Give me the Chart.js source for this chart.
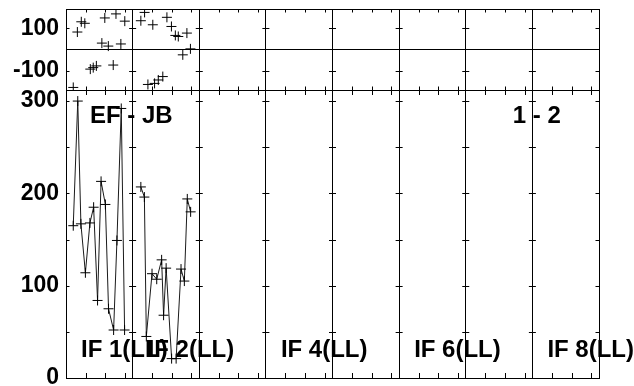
<!DOCTYPE html>
<html>
<head>
<meta charset="utf-8">
<script src="https://cdn.jsdelivr.net/npm/chart.js@4.4.1/dist/chart.umd.min.js"></script>
<style>
  html, body { margin: 0; padding: 0; background: #fff; overflow: hidden; }
  #wrap { position: relative; width: 634px; height: 386px; overflow: hidden; }
  canvas { position: absolute; left: 0; }
  #amp-chart { top: 0; }
  #phase-chart { top: -30px; }
</style>
</head>
<body>
<div id="wrap">
  <canvas id="amp-chart" width="634" height="400"></canvas>
  <canvas id="phase-chart" width="634" height="430"></canvas>
</div>
<script>
// time axis: 8 IF panels, each 3.4 time units wide
const PANEL = 3.4
const N_PANELS = 8
const minorTicks = [1, 2, 3]

// IF 1 (LL)
const if1AmpTime = [0.37, 0.60, 0.76, 0.99, 1.22, 1.41, 1.61, 1.79, 2.01, 2.17, 2.43, 2.60, 2.82, 2.99]
const if1Amp = [165, 300, 167, 114, 168, 185, 84, 213, 188, 75, 52, 149, 292, 52]
const if1PhaseTime = [0.37, 0.58, 0.78, 0.96, 1.24, 1.39, 1.55, 1.83, 1.98, 2.16, 2.41, 2.55, 2.80, 3.00]
const if1Phase = [-178, 82, 130, 123, -92, -85, -77, 30, 148, 16, -73, 167, 26, 133]

// IF 2 (LL)
const if2AmpTime = [0.42, 0.60, 0.70, 0.99, 1.23, 1.48, 1.58, 1.71, 1.99, 2.22, 2.47, 2.64, 2.79, 2.96]
const if2Amp = [207, 196, 45, 113, 107, 128, 68, 119, 21, 21, 118, 105, 194, 180]
const if2PhaseTime = [0.42, 0.61, 0.78, 1.03, 1.12, 1.31, 1.54, 1.75, 1.98, 2.18, 2.33, 2.56, 2.77, 2.95]
const if2Phase = [135, 174, -164, 116, -159, -143, -127, 151, 108, 66, 61, -25, 77, 3]

const ampTicks = [0, 100, 200, 300]
const phaseTicks = [-100, 0, 100]
const ifLabelPanels = [1, 2, 4, 6, 8]
const baselineLabel = 'EF - JB'
const pairLabel = '1 - 2'

Chart.defaults.color = '#000'
Chart.defaults.font.family = '"Liberation Sans", Arial, sans-serif'
Chart.defaults.font.weight = 'bold'
Chart.defaults.font.size = 23

function toXY(panel, times, values) {
  return times.map((t, i) => ({ x: panel * PANEL + t, y: values[i] }))
}

function panelBounds(scale) {
  scale.ticks = []
  for (let p = 0; p <= N_PANELS; p++) scale.ticks.push({ value: p * PANEL })
}

// frame, inward tick marks and panel text
const panelFrame = {
  id: 'panelFrame',
  afterDraw(chart, args, opts) {
    const ctx = chart.ctx
    const a = chart.chartArea
    const x = chart.scales.x
    const y = chart.scales.y
    ctx.save()
    ctx.strokeStyle = '#000'
    ctx.lineWidth = 1
    ctx.strokeRect(Math.round(a.left) + 0.5, Math.round(a.top) + 0.5,
      Math.round(a.right - a.left), Math.round(a.bottom - a.top))
    ctx.beginPath()
    for (let p = 0; p < N_PANELS; p++) {
      minorTicks.forEach(t => {
        const px = Math.round(x.getPixelForValue(p * PANEL + t)) + 0.5
        ctx.moveTo(px, a.top)
        ctx.lineTo(px, a.top + opts.tickLen)
        ctx.moveTo(px, a.bottom)
        ctx.lineTo(px, a.bottom - opts.tickLen)
      })
    }
    for (let p = 0; p <= N_PANELS; p++) {
      const px = x.getPixelForValue(p * PANEL)
      opts.yTicks.forEach(v => {
        const py = Math.round(y.getPixelForValue(v)) + 0.5
        ctx.moveTo(Math.max(px - 3.5, a.left), py)
        ctx.lineTo(Math.min(px + 3.5, a.right), py)
      })
    }
    ctx.stroke()

    ctx.fillStyle = '#000'
    ctx.font = 'bold 24px "Liberation Sans", Arial, sans-serif'
    ctx.textBaseline = 'middle'
    ctx.textAlign = 'left'
    opts.labels.forEach(l => {
      ctx.fillText(l.text, x.getPixelForValue(l.panel * PANEL) + l.dx, l.y)
    })
    ctx.restore()
  }
}

const phaseConfig = {
  type: 'scatter',
  data: {
    datasets: [{
      data: toXY(0, if1PhaseTime, if1Phase)
    }, {
      data: toXY(1, if2PhaseTime, if2Phase)
    }]
  },
  options: {
    responsive: false,
    animation: false,
    layout: { padding: { top: 39, bottom: 310, left: 0, right: 35 } },
    elements: {
      point: { pointStyle: 'cross', radius: 5, borderWidth: 1, borderColor: '#000' }
    },
    scales: {
      x: {
        type: 'linear',
        min: 0,
        max: PANEL * N_PANELS,
        afterBuildTicks: panelBounds,
        ticks: { display: false },
        grid: { color: '#000', drawTicks: false },
        border: { display: false }
      },
      y: {
        min: -190,
        max: 190,
        afterBuildTicks: (s) => { s.ticks = phaseTicks.map(v => ({ value: v })) },
        afterFit: (s) => { s.width = 66 },
        ticks: {
          padding: 7,
          callback: (v) => v === 0 ? '' : v
        },
        grid: {
          drawTicks: false,
          color: (c) => c.tick && c.tick.value === 0 ? '#000' : 'rgba(0,0,0,0)'
        },
        border: { display: false }
      }
    },
    plugins: {
      legend: { display: false },
      tooltip: { enabled: false },
      panelFrame: { tickLen: 3.5, yTicks: [-100, 100], labels: [] }
    }
  },
  plugins: [panelFrame]
}

const ampConfig = {
  type: 'scatter',
  data: {
    datasets: [{
      data: toXY(0, if1AmpTime, if1Amp),
      showLine: true
    }, {
      data: toXY(1, if2AmpTime, if2Amp),
      showLine: true
    }]
  },
  options: {
    responsive: false,
    animation: false,
    layout: { padding: { top: 90, bottom: 22, left: 0, right: 35 } },
    elements: {
      point: { pointStyle: 'cross', radius: 5, borderWidth: 1, borderColor: '#000' },
      line: { borderColor: '#1a1a1a', borderWidth: 1 }
    },
    scales: {
      x: {
        type: 'linear',
        min: 0,
        max: PANEL * N_PANELS,
        afterBuildTicks: panelBounds,
        ticks: { display: false },
        grid: { color: '#000', drawTicks: false },
        border: { display: false }
      },
      y: {
        min: 0,
        max: 312,
        afterBuildTicks: (s) => { s.ticks = ampTicks.map(v => ({ value: v })) },
        afterFit: (s) => { s.width = 66 },
        ticks: { padding: 7 },
        grid: { display: false, drawTicks: false },
        border: { display: false }
      }
    },
    plugins: {
      legend: { display: false },
      tooltip: { enabled: false },
      panelFrame: {
        tickLen: 5,
        yTicks: [50, 100, 150, 200, 250, 300],
        labels: [
          { text: baselineLabel, panel: 0, dx: 24, y: 116 },
          { text: pairLabel, panel: 6, dx: 47, y: 116 }
        ].concat(ifLabelPanels.map(n => ({ text: 'IF ' + n + '(LL)', panel: n - 1, dx: 15, y: 350 })))
      }
    }
  },
  plugins: [panelFrame]
}

new Chart(document.getElementById('amp-chart'), ampConfig)
new Chart(document.getElementById('phase-chart'), phaseConfig)
</script>
</body>
</html>
